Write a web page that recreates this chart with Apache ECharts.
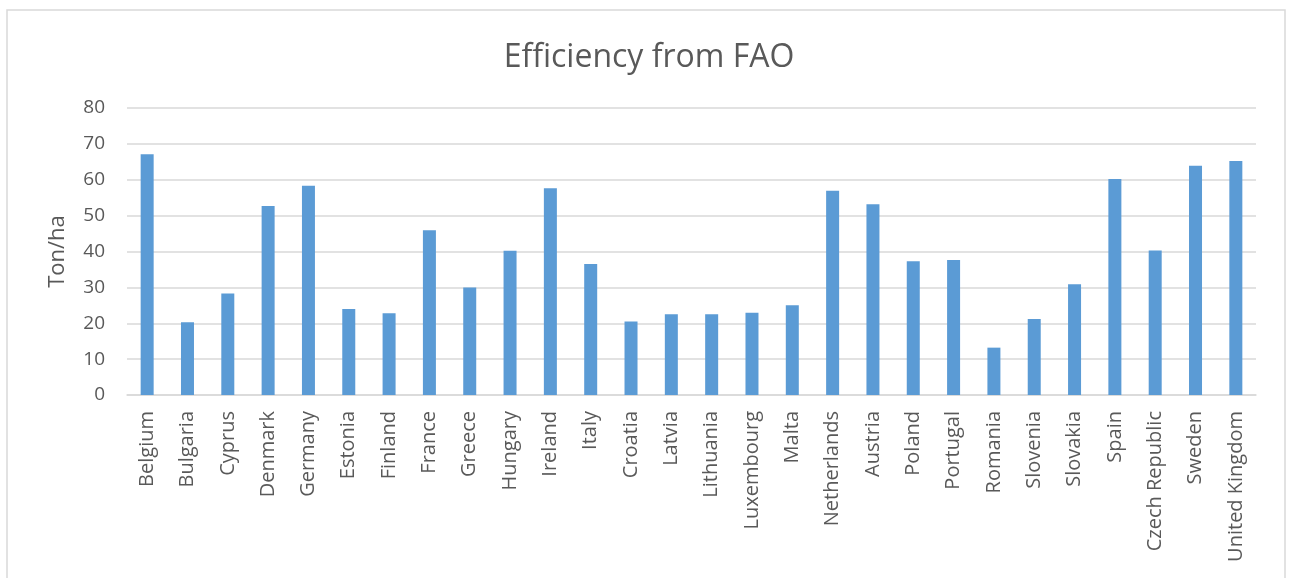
<!DOCTYPE html>
<html>
<head>
<meta charset="utf-8">
<script src="https://cdn.jsdelivr.net/npm/echarts@6/dist/echarts.min.js"></script>
<style>
  html, body { margin: 0; padding: 0; background: #fff; }
  #main { width: 1298px; height: 578px; }
</style>
</head>
<body>
<div id="main"></div>
<script>
// 国家 / 类目
var countries = ['Belgium', 'Bulgaria', 'Cyprus', 'Denmark', 'Germany', 'Estonia', 'Finland',
  'France', 'Greece', 'Hungary', 'Ireland', 'Italy', 'Croatia', 'Latvia', 'Lithuania',
  'Luxembourg', 'Malta', 'Netherlands', 'Austria', 'Poland', 'Portugal', 'Romania',
  'Slovenia', 'Slovakia', 'Spain', 'Czech Republic', 'Sweden', 'United Kingdom'];
// Ton/ha
var efficiency = [67.1, 20.3, 28.3, 52.7, 58.3, 24.0, 22.8, 45.9, 30.0, 40.2, 57.6, 36.5,
  20.5, 22.5, 22.5, 22.9, 25.0, 56.9, 53.2, 37.3, 37.6, 13.2, 21.2, 30.9, 60.2, 40.3, 63.9, 65.2];
var yTicks = [0, 10, 20, 30, 40, 50, 60, 70, 80];

var textColor = '#595959';
var font = '"Open Sans", sans-serif';

var myChart = echarts.init(document.getElementById('main'));
var option = {
  animation: false,
  // 外框
  graphic: [{
    type: 'rect',
    shape: { x: 7, y: 10, width: 1278, height: 620 },
    style: { fill: 'none', stroke: '#d9d9d9', lineWidth: 1.5 },
    silent: true
  }],
  title: {
    text: 'Efficiency from FAO',
    left: 'center',
    top: 37,
    textStyle: { color: textColor, fontSize: 32, fontWeight: 'normal', fontFamily: font }
  },
  grid: { left: 127, right: 42, top: 108, bottom: 183 },
  xAxis: {
    type: 'category',
    data: countries,
    axisLine: { lineStyle: { color: '#d9d9d9', width: 1.5 } },
    axisTick: { show: false },
    axisLabel: {
      rotate: 90,
      interval: 0,
      margin: 16,
      color: textColor,
      fontSize: 20,
      fontFamily: font
    }
  },
  yAxis: {
    type: 'value',
    min: yTicks[0],
    max: yTicks[yTicks.length - 1],
    interval: 10,
    name: 'Ton/ha',
    nameLocation: 'middle',
    nameRotate: 90,
    nameGap: 58,
    nameTextStyle: { color: textColor, fontSize: 22, fontFamily: font },
    axisLine: { show: false },
    axisTick: { show: false },
    splitLine: { lineStyle: { color: '#d9d9d9', width: 1.5 } },
    axisLabel: { color: textColor, fontSize: 19, margin: 22, fontFamily: font }
  },
  series: [{
    name: 'Efficiency',
    type: 'bar',
    data: efficiency,
    barWidth: 13,
    itemStyle: { color: '#5b9bd5' }
  }]
};
myChart.setOption(option);
</script>
</body>
</html>
